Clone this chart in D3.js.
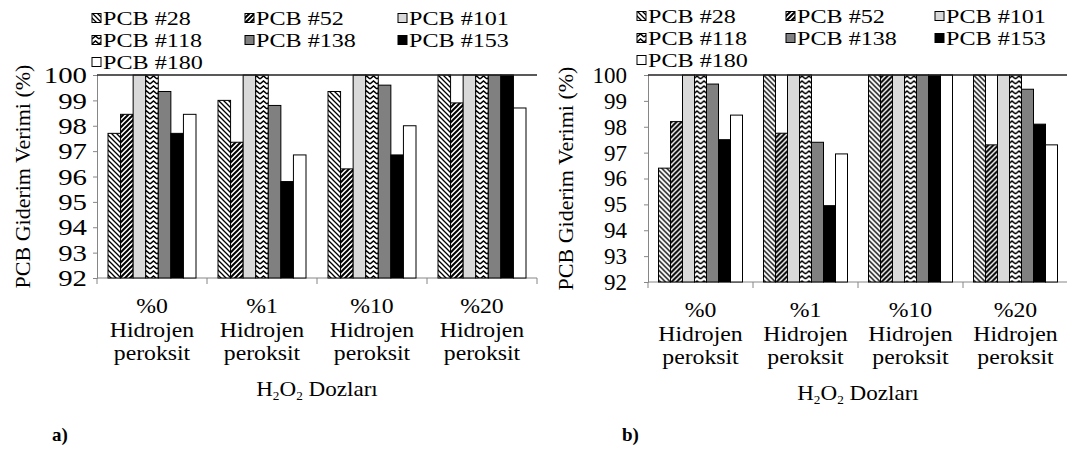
<!DOCTYPE html>
<html>
<head>
<meta charset="utf-8">
<script src="https://cdn.jsdelivr.net/npm/d3@7"></script>
<style>
  body { margin: 0; background: #fff; }
  svg { display: block; }
</style>
</head>
<body>
<div id="chart"></div>
<script>
// Categories and series
const categories = ["%0", "%1", "%10", "%20"];
const series = ["PCB #28", "PCB #52", "PCB #101", "PCB #118", "PCB #138", "PCB #153", "PCB #180"];
const yTicks = [92, 93, 94, 95, 96, 97, 98, 99, 100];

// Panel a) values per series (one value per category)
const pcb28A  = [97.7, 99.0, 99.35, 100];
const pcb52A  = [98.45, 97.35, 96.3, 98.9];
const pcb101A = [100, 100, 100, 100];
const pcb118A = [100, 100, 100, 100];
const pcb138A = [99.35, 98.8, 99.6, 100];
const pcb153A = [97.7, 95.8, 96.85, 100];
const pcb180A = [98.45, 96.85, 98.0, 98.7];

// Panel b) values per series
const pcb28B  = [96.4, 100, 100, 100];
const pcb52B  = [98.2, 97.75, 100, 97.3];
const pcb101B = [100, 100, 100, 100];
const pcb118B = [100, 100, 100, 100];
const pcb138B = [99.65, 97.4, 100, 99.45];
const pcb153B = [97.5, 94.95, 100, 98.1];
const pcb180B = [98.45, 96.95, 100, 97.3];

const valuesA = [pcb28A, pcb52A, pcb101A, pcb118A, pcb138A, pcb153A, pcb180A];
const valuesB = [pcb28B, pcb52B, pcb101B, pcb118B, pcb138B, pcb153B, pcb180B];

const FONT = '"Liberation Serif"';

const width = 1067, height = 452;
const svg = d3.select("#chart").append("svg")
    .attr("width", width)
    .attr("height", height);

// Fill patterns
const defs = svg.append("defs");
function addPattern(id, w, h, build) {
    const p = defs.append("pattern")
        .attr("id", id)
        .attr("patternUnits", "userSpaceOnUse")
        .attr("width", w).attr("height", h);
    p.append("rect").attr("width", w).attr("height", h).attr("fill", "#fff");
    build(p);
}
addPattern("p28", 5, 5, p => {
    p.append("path").attr("d", "M-1,-1 L6,6 M-1,4 L1,6 M4,-1 L6,1")
        .attr("stroke", "#000").attr("stroke-width", 1.3);
});
addPattern("p52", 5, 5, p => {
    p.append("path").attr("d", "M-1,6 L6,-1 M-1,1 L1,-1 M4,6 L6,4")
        .attr("stroke", "#000").attr("stroke-width", 2);
});
addPattern("p118", 7, 5, p => {
    p.append("path").attr("d", "M0,4 L3.5,1 L7,4")
        .attr("fill", "none").attr("stroke", "#000").attr("stroke-width", 1.6);
});
const fills = ["url(#p28)", "url(#p52)", "#d9d9d9", "url(#p118)", "#808080", "#000", "#fff"];

// widen text like the source picture, without transforms
function stretch(sel, sx) {
    sel.each(function() {
        const w = this.getComputedTextLength();
        d3.select(this)
            .attr("textLength", w * sx)
            .attr("lengthAdjust", "spacingAndGlyphs");
    });
    return sel;
}

function drawPanel(cfg) {
    const { values, left, right, top, bottom, tickSize, tickSx, tickGap, legendX, legendY, titleX, label, labelX } = cfg;

    const x0 = d3.scaleBand()
        .domain(categories)
        .range([left, right])
        .paddingInner(0.2)
        .paddingOuter(0.1);
    const x1 = d3.scaleBand()
        .domain(series)
        .range([0, x0.bandwidth()]);
    const y = d3.scaleLinear()
        .domain([92, 100])
        .range([bottom, top]);

    const g = svg.append("g");

    // Y axis
    const yAxis = g.append("g")
        .attr("transform", `translate(${left},0)`)
        .call(d3.axisLeft(y).tickValues(yTicks).tickSize(4).tickPadding(tickGap).tickFormat(d3.format("d")));
    yAxis.attr("font-family", FONT).attr("font-size", tickSize);
    yAxis.select(".domain").attr("stroke", "#868686");
    yAxis.selectAll(".tick line").attr("stroke", "#868686");
    stretch(yAxis.selectAll(".tick text")
        .style("font-family", FONT)
        .style("font-size", tickSize + "px"), tickSx);

    // X axis with ticks between categories
    const xAxis = g.append("g")
        .attr("transform", `translate(0,${bottom})`);
    xAxis.append("line")
        .attr("x1", left).attr("x2", right)
        .attr("stroke", "#868686");
    const step = x0.step();
    const bounds = d3.range(categories.length + 1).map(i => left + i * step);
    xAxis.selectAll("line.tk")
        .data(bounds)
        .enter().append("line")
        .attr("class", "tk")
        .attr("x1", d => d).attr("x2", d => d)
        .attr("y1", 0).attr("y2", 6)
        .attr("stroke", "#868686");

    // Bars
    const groups = g.selectAll("g.cat")
        .data(categories)
        .enter().append("g")
        .attr("class", "cat")
        .attr("transform", d => `translate(${x0(d)},0)`);
    groups.selectAll("rect")
        .data((c, ci) => series.map((s, si) => ({ s, si, v: values[si][ci] })))
        .enter().append("rect")
        .attr("x", d => x1(d.s))
        .attr("y", d => y(d.v))
        .attr("width", x1.bandwidth())
        .attr("height", d => y(92) - y(d.v))
        .attr("fill", d => fills[d.si])
        .attr("stroke", "#000")
        .attr("stroke-width", 1);

    // Top line at 100
    g.append("line")
        .attr("x1", left).attr("x2", right)
        .attr("y1", y(100)).attr("y2", y(100))
        .attr("stroke", "#222").attr("stroke-width", 1.5);

    // Category labels
    categories.forEach(c => {
        const cx = x0(c) + x0.bandwidth() / 2;
        [c, "Hidrojen", "peroksit"].forEach((line, li) => {
            stretch(g.append("text")
                .attr("x", cx)
                .attr("y", bottom + 35 + li * 23.5)
                .attr("text-anchor", "middle")
                .style("font-family", FONT)
                .style("font-size", "21px")
                .text(line), 1.13);
        });
    });

    // X axis title
    const xt = g.append("text")
        .attr("x", (left + right) / 2)
        .attr("y", bottom + 118)
        .attr("text-anchor", "middle")
        .style("font-family", FONT)
        .style("font-size", "21px");
    xt.append("tspan").text("H");
    xt.append("tspan").attr("dy", 4).style("font-size", "12px").text("2");
    xt.append("tspan").attr("dy", -4).text("O");
    xt.append("tspan").attr("dy", 4).style("font-size", "12px").text("2");
    xt.append("tspan").attr("dy", -4).text(" Dozları");
    stretch(xt, 1.1);

    // Y axis title
    g.append("text")
        .attr("transform", `translate(${titleX},${(top + bottom) / 2}) rotate(-90)`)
        .attr("text-anchor", "middle")
        .attr("dy", "0.35em")
        .style("font-family", FONT)
        .style("font-size", "22px")
        .text("PCB Giderim Verimi (%)");

    // Legend
    const legend = g.selectAll("g.leg")
        .data(series)
        .enter().append("g")
        .attr("class", "leg")
        .attr("transform", (d, i) => `translate(${legendX + (i % 3) * cfg.legendCol},${legendY + Math.floor(i / 3) * 22})`);
    legend.append("rect")
        .attr("x", 0).attr("y", -4.5)
        .attr("width", 9).attr("height", 9)
        .attr("fill", (d, i) => fills[i])
        .attr("stroke", "#000");
    stretch(legend.append("text")
        .attr("x", 11)
        .attr("dy", "0.35em")
        .style("font-family", FONT)
        .style("font-size", "19.8px")
        .text(d => d), 1.22);

    // Panel label
    g.append("text")
        .attr("x", labelX)
        .attr("y", 441)
        .style("font-family", FONT)
        .style("font-size", "19px")
        .style("font-weight", "bold")
        .text(label);
}

drawPanel({
    values: valuesA, left: 97, right: 537, top: 75, bottom: 278,
    tickSize: 24, tickSx: 1.2, tickGap: 6,
    legendX: 92, legendY: 18, legendCol: 153,
    titleX: 22, label: "a)", labelX: 52
});

drawPanel({
    values: valuesB, left: 648, right: 1068, top: 75, bottom: 282,
    tickSize: 23, tickSx: 1.0, tickGap: 17,
    legendX: 637, legendY: 16, legendCol: 149,
    titleX: 565, label: "b)", labelX: 622
});
</script>
</body>
</html>
